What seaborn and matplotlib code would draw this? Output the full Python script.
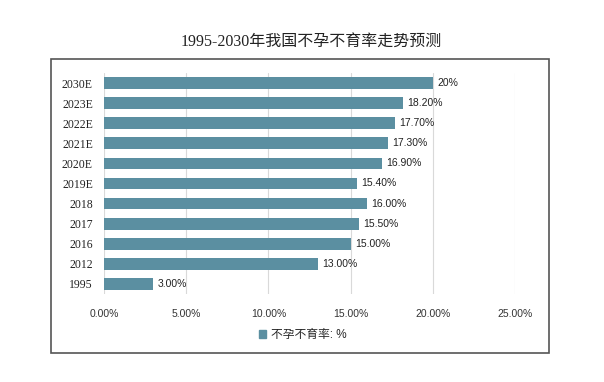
import pandas as pd
import seaborn as sns
import matplotlib.pyplot as plt
from matplotlib.patches import Patch, Rectangle

years  = ["2030E", "2023E", "2022E", "2021E", "2020E", "2019E", "2018", "2017", "2016", "2012", "1995"]
rates  = [20.0, 18.2, 17.7, 17.3, 16.9, 15.4, 16.0, 15.5, 15.0, 13.0, 3.0]
labels = ["20%", "18.20%", "17.70%", "17.30%", "16.90%", "15.40%", "16.00%", "15.50%", "15.00%", "13.00%", "3.00%"]
xticks = [0, 5, 10, 15, 20, 25]
title  = "1995-2030年我国不孕不育率走势预测"
series = "不孕不育率: %"

df = pd.DataFrame({"year": years, "rate": rates})
bar_color = "#5b8fa1"

sns.set_style("white")
plt.rcParams['font.family'] = ['Liberation Sans', 'Noto Sans CJK SC']

fig = plt.figure(figsize=(6.04, 3.82), dpi=100)
ax = fig.add_axes([104/604, 1-294/382, 411/604, 221/382])

sns.barplot(data=df, x="rate", y="year", orient="h", color=bar_color,
            width=0.58, saturation=1, linewidth=0, ax=ax)
ax.bar_label(ax.containers[0], labels=labels, padding=3, fontsize=7.5, color="#222222")

ax.set_xlim(0, 25)
ax.set_ylim(10.5, -0.5)
ax.set_xticks(xticks)
ax.set_xticklabels([f"{t:.2f}%" for t in xticks], fontsize=7.5, color="#333333")
ax.tick_params(axis="x", length=0, pad=11)
ax.tick_params(axis="y", length=0, pad=8)
for lab in ax.get_yticklabels():
    lab.set_family(['Liberation Serif', 'Noto Sans CJK SC'])
    lab.set_fontsize(8.5)
    lab.set_color("#222222")
ax.xaxis.grid(True, color="#d9d9d9", linewidth=0.8)
ax.set_axisbelow(True)
ax.set_xlabel("")
ax.set_ylabel("")
sns.despine(ax=ax, left=True, bottom=True)

# outer frame
fig.patches.append(Rectangle((51/604, 1-353/382), 498/604, 294/382, transform=fig.transFigure,
                             fill=False, edgecolor="#555555", linewidth=1.2))

fig.text(311/604, 1-42/382, title, ha="center", va="center", fontsize=11.5,
         family=['Liberation Serif', 'Noto Sans CJK SC'], color="#222222")

fig.legend(handles=[Patch(color=bar_color, label=series)], loc="center",
           bbox_to_anchor=(303/604, 1-335/382), frameon=False, fontsize=8.5,
           handlelength=0.6, handleheight=0.6, handletextpad=0.4)

plt.savefig("out.png", dpi=100)
